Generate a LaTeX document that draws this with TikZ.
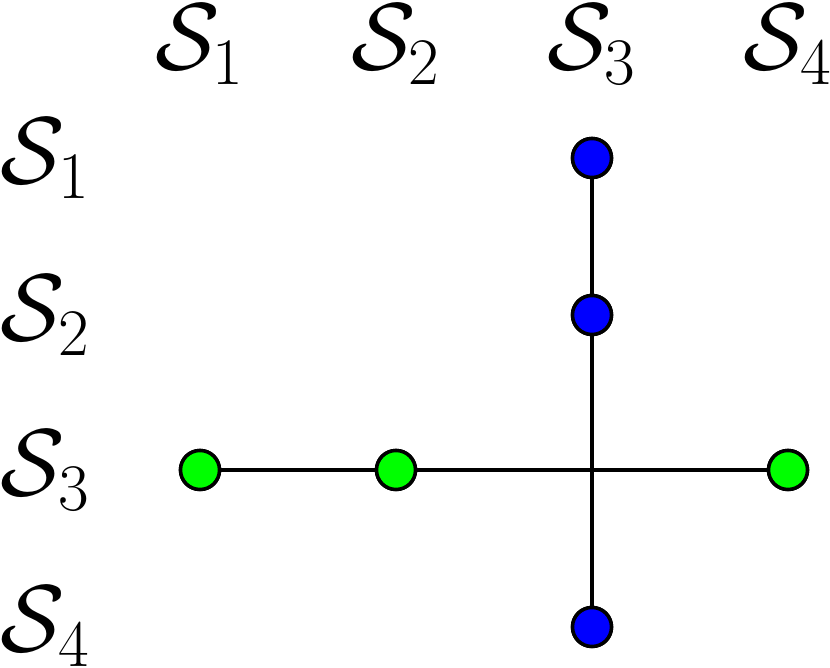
\RequirePackage{fix-cm}
\documentclass[tikz,border=0pt]{standalone}
\begin{document}
\begin{tikzpicture}[x=0.01cm,y=-0.01cm,
  lbl/.style={inner sep=0pt, font=\fontsize{27}{32}\selectfont},
  bdot/.style={circle, draw=black, line width=1pt, fill=blue, minimum size=0.39cm, inner sep=0pt},
  gdot/.style={circle, draw=black, line width=1pt, fill=green, minimum size=0.39cm, inner sep=0pt},
  edge/.style={draw=black, line width=1pt}]
\useasboundingbox (0,0) rectangle (830,668);
% column labels
\node[lbl, anchor=base] (c1) at (200,70) {$\mathcal{S}_1$};
\node[lbl, anchor=base] (c2) at (396,70) {$\mathcal{S}_2$};
\node[lbl, anchor=base] (c3) at (592,70) {$\mathcal{S}_3$};
\node[lbl, anchor=base] (c4) at (788,70) {$\mathcal{S}_4$};
% row labels
\node[lbl, anchor=base west] (r1) at (0,184) {$\mathcal{S}_1$};
\node[lbl, anchor=base west] (r2) at (0,341) {$\mathcal{S}_2$};
\node[lbl, anchor=base west] (r3) at (0,496) {$\mathcal{S}_3$};
\node[lbl, anchor=base west] (r4) at (0,652) {$\mathcal{S}_4$};
% dots
\node[bdot] (b1) at (592,158) {};
\node[bdot] (b2) at (592,315) {};
\node[bdot] (b4) at (592,627) {};
\node[gdot] (g1) at (200,470) {};
\node[gdot] (g2) at (396,470) {};
\node[gdot] (g4) at (788,470) {};
% connectors
\draw[edge] (b1) -- (b2) -- (b4);
\draw[edge] (g1) -- (g2) -- (g4);
\node[bdot] at (b1) {};
\node[bdot] at (b2) {};
\node[bdot] at (b4) {};
\node[gdot] at (g1) {};
\node[gdot] at (g2) {};
\node[gdot] at (g4) {};
\end{tikzpicture}
\end{document}
